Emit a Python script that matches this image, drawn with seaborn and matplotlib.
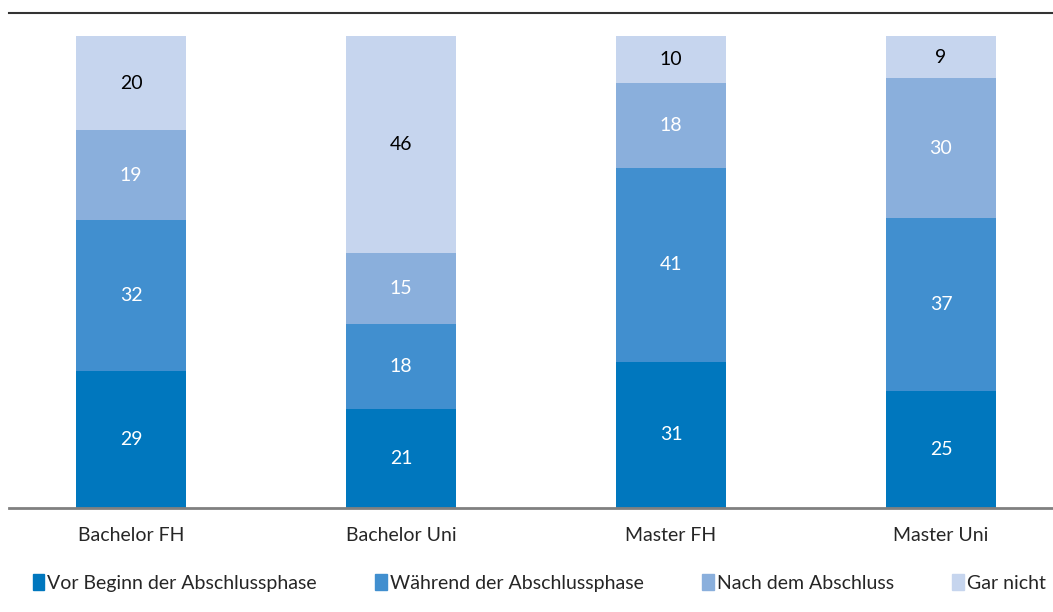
import numpy as np
import pandas as pd
import matplotlib
matplotlib.use('Agg')
import matplotlib.pyplot as plt
import seaborn as sns
from matplotlib.patches import Patch

# data (percent, rounded labels; columns are drawn as shares of 100 %)
categories = ['Bachelor FH', 'Bachelor Uni', 'Master FH', 'Master Uni']
vor_beginn = [29, 21, 31, 25]
waehrend = [32, 18, 41, 37]
nach_abschluss = [19, 15, 18, 30]
gar_nicht = [20, 46, 10, 9]
series_names = ['Vor Beginn der Abschlussphase', 'Während der Abschlussphase',
                'Nach dem Abschluss', 'Gar nicht']

colors = ['#0077be', '#418fcf', '#8aafdc', '#c6d5ee']
text_colors = ['white', 'white', 'white', 'black']

sns.set_style('white')
plt.rcParams['font.family'] = ['Lato', 'DejaVu Sans']

all_series = [vor_beginn, waehrend, nach_abschluss, gar_nicht]
totals = np.sum(np.array(all_series, dtype=float), axis=0)

fig = plt.figure(figsize=(10.53, 6.12), dpi=100)
ax = fig.add_axes([9 / 1053, 104 / 612, 1044 / 1053, 495 / 612])

bottom = np.zeros(len(categories))
for name, vals, col, tcol in zip(series_names, all_series, colors, text_colors):
    share = np.array(vals) / totals * 100
    df = pd.DataFrame({'cat': categories, 'val': share})
    sns.barplot(data=df, x='cat', y='val', color=col, bottom=bottom,
                width=0.407, ax=ax, saturation=1, linewidth=0, errorbar=None)
    for i, v in enumerate(vals):
        ax.text(i, bottom[i] + share[i] / 2, str(v), ha='center', va='center',
                color=tcol, fontsize=14)
    bottom += share

ax.set_xlim(-0.452, 3.415)
ax.set_ylim(0, 104.9)
ax.set_xlabel('')
ax.set_ylabel('')
ax.set_yticks([])
ax.tick_params(axis='x', length=0, labelsize=14, pad=14)
for s in ['left', 'right']:
    ax.spines[s].set_visible(False)
ax.spines['bottom'].set_color('#808080')
ax.spines['bottom'].set_linewidth(2)
ax.spines['top'].set_color('#333333')
ax.spines['top'].set_linewidth(1.5)

handles = [Patch(color=c, label=n) for c, n in zip(colors, series_names)]
fig.legend(handles=handles, loc='center', bbox_to_anchor=(0.512, 29 / 612), ncol=4,
           frameon=False, fontsize=14, handlelength=0.6, handleheight=0.9,
           handletextpad=0.15, columnspacing=3.0)

fig.savefig('out.png', dpi=100)
